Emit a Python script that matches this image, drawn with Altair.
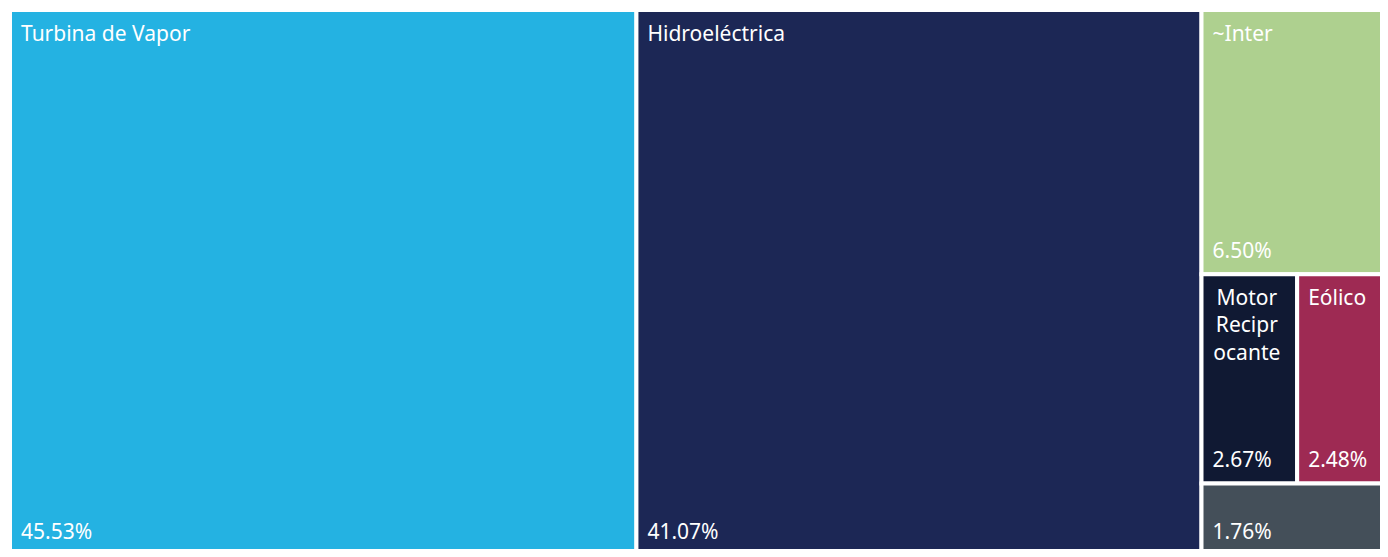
import math
import altair as alt
import pandas as pd

# ---- data ----
categories = ["Turbina de Vapor", "Hidroeléctrica", "~Inter", "Motor Reciprocante", "Eólico", "Otros"]
labels = ["Turbina de Vapor", "Hidroeléctrica", "~Inter", "Motor\nRecipr\nocante", "Eólico", ""]
shares = [45.53, 41.07, 6.50, 2.67, 2.48, 1.76]
colors = ["#24B2E2", "#1C2755", "#AED08F", "#101933", "#9E2A53", "#444F59"]
wrapped = [False, False, False, True, False, False]

W, H = 1372, 541
EDGE = 2  # let outer cell edges reach the chart border despite the white stroke


def squarify(values, x0, y0, x1, y1, ratio=(1 + math.sqrt(5)) / 2):
    """d3.treemapSquarify layout; returns list of (x0, y0, x1, y1)."""
    out = [None] * len(values)
    value = sum(values)
    n = len(values)
    i0 = i1 = 0
    while i0 < n:
        dx, dy = x1 - x0, y1 - y0
        sum_v = values[i1]
        i1 += 1
        min_v = max_v = sum_v
        alpha = max(dy / dx, dx / dy) / (value * ratio)
        beta = sum_v * sum_v * alpha
        min_ratio = max(max_v / beta, beta / min_v)
        while i1 < n:
            nv = values[i1]
            sum_v += nv
            min_v = min(min_v, nv)
            max_v = max(max_v, nv)
            beta = sum_v * sum_v * alpha
            new_ratio = max(max_v / beta, beta / min_v)
            if new_ratio > min_ratio:
                sum_v -= nv
                break
            min_ratio = new_ratio
            i1 += 1
        row = list(range(i0, i1))
        if dx < dy:  # dice: row across the top
            ny = y0 + dy * sum_v / value
            cx = x0
            for k in row:
                w = dx * values[k] / sum_v
                out[k] = (cx, y0, cx + w, ny)
                cx += w
            y0 = ny
        else:  # slice: column at the left
            nx = x0 + dx * sum_v / value
            cy = y0
            for k in row:
                h = dy * values[k] / sum_v
                out[k] = (x0, cy, nx, cy + h)
                cy += h
            x0 = nx
        value -= sum_v
        i0 = i1
    return out


rects = squarify(shares, -EDGE, -EDGE, W + EDGE, H + EDGE)
df = pd.DataFrame({
    "name": categories,
    "label": labels,
    "share": shares,
    "pct": [f"{v:.2f}%" for v in shares],
    "x0": [r[0] for r in rects],
    "y0": [r[1] for r in rects],
    "x1": [r[2] for r in rects],
    "y1": [r[3] for r in rects],
    "xc": [(r[0] + r[2]) / 2 for r in rects],
    "wrapped": wrapped,
})

xs = alt.Scale(domain=[0, W], range=[0, W], nice=False, zero=False)
ys = alt.Scale(domain=[0, H], range=[0, H], nice=False, zero=False)
col = alt.Color("name:N", scale=alt.Scale(domain=categories, range=colors), legend=None)

base = alt.Chart(df)

cells = base.mark_rect(stroke="white", strokeWidth=4).encode(
    x=alt.X("x0:Q", scale=xs, axis=None),
    x2="x1:Q",
    y=alt.Y("y0:Q", scale=ys, axis=None),
    y2="y1:Q",
    color=col,
    tooltip=["name:N", "pct:N"],
)

font = "Noto Sans"
fs = 21
names_left = base.transform_filter("!datum.wrapped").mark_text(
    align="left", baseline="alphabetic", dx=11, dy=30.5, font=font, fontSize=fs, color="white"
).encode(
    x=alt.X("x0:Q", scale=xs, axis=None),
    y=alt.Y("y0:Q", scale=ys, axis=None),
    text="label:N",
)

names_wrapped = base.transform_filter("datum.wrapped").mark_text(
    align="center", baseline="alphabetic", dx=-2.5, dy=30.5, font=font, fontSize=fs, color="white",
    lineBreak="\n", lineHeight=27.5,
).encode(
    x=alt.X("xc:Q", scale=xs, axis=None),
    y=alt.Y("y0:Q", scale=ys, axis=None),
    text="label:N",
)

pcts = base.mark_text(
    align="left", baseline="alphabetic", dx=11, dy=-16, font=font, fontSize=fs, color="white"
).encode(
    x=alt.X("x0:Q", scale=xs, axis=None),
    y=alt.Y("y1:Q", scale=ys, axis=None),
    text="pct:N",
)

chart = alt.layer(cells, names_left, names_wrapped, pcts).properties(
    width=W, height=H,
    autosize=alt.AutoSizeParams(type="fit", contains="padding"),
    padding=0,
).configure_view(stroke=None)

chart.save("out.html", embed_options={"renderer": "svg", "actions": False})
